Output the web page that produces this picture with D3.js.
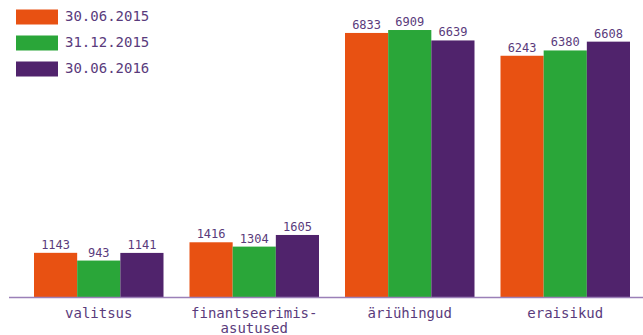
<!DOCTYPE html>
<html><head><meta charset="utf-8">
<script src="https://cdn.jsdelivr.net/npm/d3@7"></script>
<style>body{margin:0;background:#fff}</style>
</head><body>
<svg id="c" width="643" height="335"></svg>
<script>
const categories = [["valitsus"], ["finantseerimis-", "asutused"], ["äriühingud"], ["eraisikud"]];
const seriesNames = ["30.06.2015", "31.12.2015", "30.06.2016"];
const s2015a = [1143, 1416, 6833, 6243];
const s2015b = [943, 1304, 6909, 6380];
const s2016a = [1141, 1605, 6639, 6608];
const colors = ["#e85112", "#2aa639", "#50236c"];
const seriesValues = [s2015a, s2015b, s2016a];

const svg = d3.select("#c");
const font = "'DejaVu Sans Mono', monospace";
const textColor = "#5a3b7c";
const keys = categories.map((c, i) => i);
const x = d3.scaleBand().domain(keys).range([21, 643]).paddingInner(26/155.5).paddingOuter(13/155.5);
const xs = d3.scaleBand().domain(d3.range(3)).range([0, x.bandwidth()]);
const y = d3.scaleLinear().domain([0, 7000]).range([297, 26.5]);

keys.forEach(ci => {
  const g = svg.append("g").attr("transform", `translate(${x(ci)},0)`);
  seriesValues.forEach((vals, si) => {
    const v = vals[ci];
    g.append("rect").attr("x", xs(si)).attr("width", xs.bandwidth())
      .attr("y", y(v)).attr("height", y(0) - y(v)).attr("fill", colors[si]);
    g.append("text").attr("x", xs(si) + xs.bandwidth()/2).attr("y", y(v) - 4)
      .attr("text-anchor", "middle").attr("font-family", font).attr("font-size", 12)
      .attr("fill", textColor).text(v);
  });
});

svg.append("line").attr("x1", 9).attr("x2", 643).attr("y1", 297.5).attr("y2", 297.5)
  .attr("stroke", "#9b80b8").attr("stroke-width", 1.5);

keys.forEach(ci => {
  const t = svg.append("text").attr("x", x(ci) + x.bandwidth()/2).attr("y", 318)
    .attr("text-anchor", "middle").attr("font-family", font).attr("font-size", 14)
    .attr("fill", textColor);
  categories[ci].forEach((line, li) => {
    t.append("tspan").attr("x", x(ci) + x.bandwidth()/2).attr("dy", li === 0 ? 0 : 15).text(line);
  });
});

seriesNames.forEach((n, i) => {
  svg.append("rect").attr("x", 16).attr("y", 9.5 + i*26).attr("width", 42).attr("height", 15).attr("fill", colors[i]);
  svg.append("text").attr("x", 65).attr("y", 21 + i*26).attr("font-family", font).attr("font-size", 14)
    .attr("fill", textColor).text(n);
});
</script>
</body></html>
